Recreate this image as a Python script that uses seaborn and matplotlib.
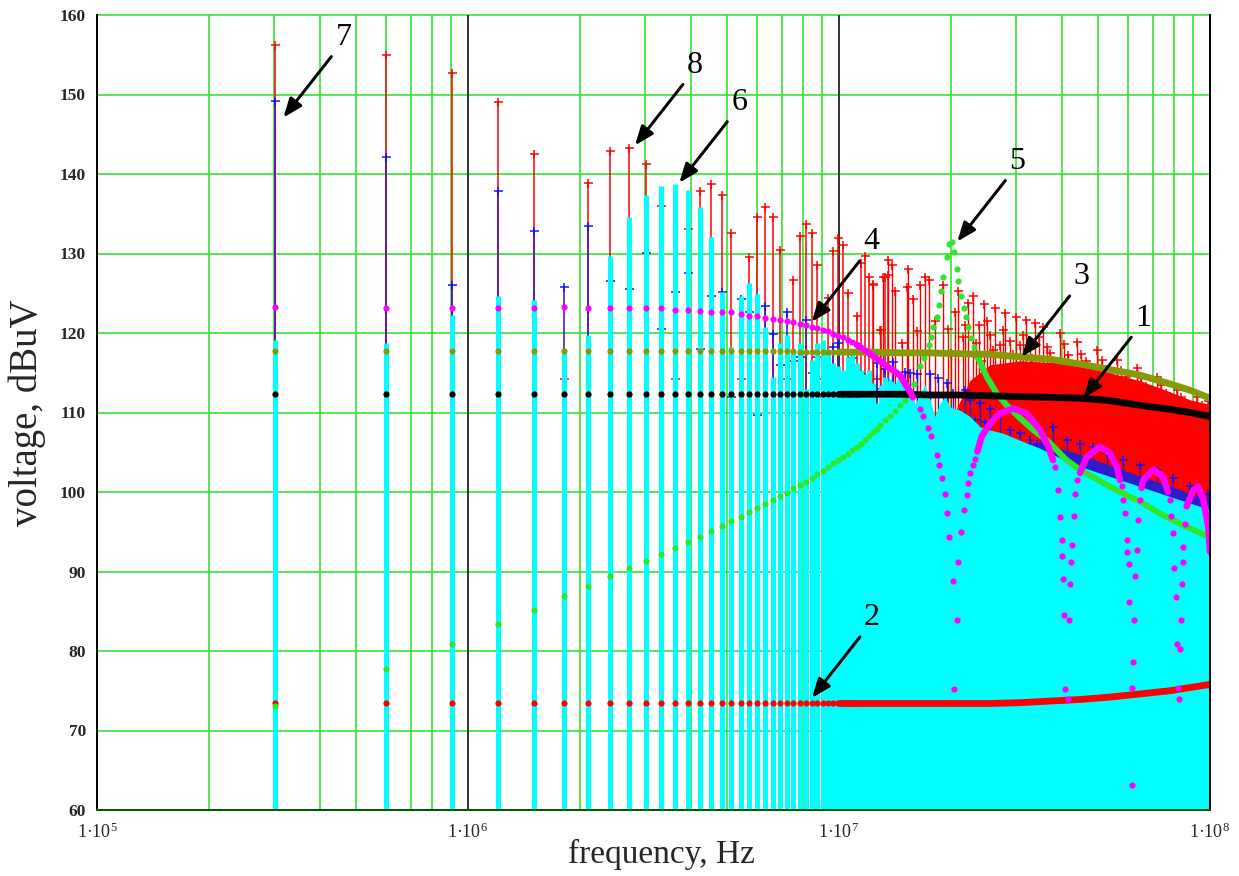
import matplotlib
matplotlib.use("Agg")
import matplotlib.pyplot as plt
from matplotlib.ticker import NullLocator
import seaborn as sns

MHZ = 1e6
F0_MHZ = 0.3015                      # fundamental of the pulse train
harmonic = list(range(1, 46))        # harmonics drawn as individual stems

# spectrum stems (dBuV) per harmonic
red_top = [156.2, 155.0, 152.7, 149.1, 142.5, 114.2, 138.9, 142.9, 143.3, 141.2,
           136.0, 114.2, 133.1, 137.9, 138.8, 137.4, 132.6, 114.2, 129.5, 134.6,
           135.8, 134.6, 130.4, 114.2, 126.7, 132.2, 133.7, 132.6, 128.6, 114.2,
           124.4, 130.3, 131.9, 131.1, 125.0, 114.2, 122.2, 128.8, 129.7, 127.0,
           126.1, 114.2, 120.4, 127.1, 127.3]
blue_top = [149.2, 142.2, 126.0, 137.8, 132.8, 125.8, 133.4, 126.5, 125.5, 130.1,
            120.5, 125.2, 127.6, 118.0, 124.7, 125.2, 112.0, 124.3, 122.6, 109.7,
            123.4, 119.9, 116.0, 122.7, 116.5, 117.0, 121.6, 115.0, 117.0, 112.0,
            115.0, 118.3, 118.7, 113.0, 115.0, 116.8, 112.0, 114.8, 112.0, 113.0,
            110.0, 116.2, 113.0, 115.5, 114.0]
cyan_top = [119.1, 118.7, 122.3, 124.6, 124.1, 117.9, 119.7, 129.7, 134.6, 137.3,
            138.5, 138.8, 138.0, 135.9, 132.1, 125.2, 118.2, 124.6, 126.3, 124.9,
            120.8, 114.5, 118.8, 119.7, 117.6, 118.7, 113.0, 116.6, 118.7, 119.1,
            117.9, 116.2, 115.8, 115.3, 117.0, 117.4, 116.2, 115.3, 114.9, 115.3,
            113.7, 111.2, 113.5, 114.5, 114.0]

# dotted curves at the first 37 harmonics
black_dots = [112.3, 112.3, 112.3, 112.3, 112.3, 112.3, 112.3, 112.3, 112.3, 112.3,
              112.3, 112.3, 112.3, 112.3, 112.3, 112.3, 112.3, 112.3, 112.3, 112.3,
              112.3, 112.3, 112.3, 112.3, 112.3, 112.3, 112.3, 112.3, 112.3, 112.3,
              112.3, 112.3, 112.3, 112.3, 112.3, 112.3, 112.3]
olive_dots = [117.7, 117.7, 117.7, 117.7, 117.7, 117.7, 117.7, 117.7, 117.7, 117.7,
              117.7, 117.7, 117.7, 117.7, 117.7, 117.7, 117.7, 117.7, 117.7, 117.7,
              117.7, 117.7, 117.7, 117.7, 117.7, 117.6, 117.6, 117.6, 117.6, 117.6,
              117.6, 117.6, 117.6, 117.6, 117.6, 117.6, 117.6]
reddot_dots = [73.4, 73.4, 73.4, 73.4, 73.4, 73.4, 73.4, 73.4, 73.4, 73.4,
               73.4, 73.4, 73.4, 73.4, 73.4, 73.4, 73.4, 73.4, 73.4, 73.4,
               73.4, 73.4, 73.4, 73.4, 73.4, 73.4, 73.4, 73.4, 73.4, 73.4,
               73.4, 73.4, 73.4, 73.4, 73.4, 73.4, 73.4]
magenta_dots = [123.3, 123.2, 123.2, 123.2, 123.2, 123.3, 123.2, 123.2, 123.2, 123.1,
                123.1, 122.9, 122.9, 122.8, 122.7, 122.7, 122.6, 122.4, 122.2, 122.1,
                121.9, 121.8, 121.6, 121.5, 121.4, 121.1, 121.0, 120.8, 120.6, 120.4,
                120.2, 119.9, 119.6, 119.5, 119.1, 118.9, 118.5]
green_dots = [73.1, 77.7, 80.9, 83.4, 85.2, 86.9, 88.2, 89.4, 90.4, 91.3,
              92.2, 93.0, 93.7, 94.4, 95.1, 95.7, 96.3, 96.9, 97.5, 98.0,
              98.5, 99.0, 99.5, 99.9, 100.5, 100.9, 101.3, 101.8, 102.3, 102.6,
              103.2, 103.6, 104.0, 104.4, 104.8, 105.3, 105.7, 106.1, 106.6, 107.0,
              107.5, 107.9]

# dense part of the band (MHz)
dense_f = [10.06, 12.12, 14.60, 17.60, 21.20, 25.53, 30.75, 37.05, 44.62, 53.74,
           64.75, 77.99, 88.33, 100.0]
black_dense = [112.3, 112.3, 112.3, 112.2, 112.2, 112.1, 112.0, 111.9, 111.8, 111.5,
               110.9, 110.4, 110.0, 109.5]
olive_dense = [117.6, 117.6, 117.5, 117.5, 117.4, 117.3, 117.0, 116.7, 116.1, 115.4,
               114.7, 113.6, 112.8, 111.8]
reddot_dense = [73.4, 73.4, 73.4, 73.4, 73.4, 73.4, 73.5, 73.7, 73.9, 74.2,
                74.6, 75.0, 75.4, 75.8]

# curve 5: resonance peak dots and the falling tail
green_peak_f = [12.90, 13.31, 13.73, 14.16, 14.60, 15.07, 15.54, 15.93, 16.54, 16.98,
                17.45, 17.70, 17.96, 18.34, 18.60, 18.79, 19.10, 19.52, 19.84, 20.21,
                20.46, 20.77, 20.97, 21.28, 21.72, 22.00, 22.32, 22.69, 23.17]
green_peak_v = [108.4, 109.0, 109.6, 110.2, 110.9, 111.6, 112.6, 113.6, 115.8, 116.8,
                118.5, 119.5, 120.8, 122.0, 123.5, 125.3, 127.1, 129.5, 131.2, 131.4,
                130.2, 128.1, 126.5, 124.6, 123.2, 122.0, 120.8, 119.4, 118.3]
green_tail_f = [23.51, 23.74, 25.01, 26.61, 28.31, 30.75, 33.40, 36.75, 41.09, 44.62,
                52.66, 58.38, 64.75, 73.31, 84.69, 98.95, 100.0]
green_tail_v = [117.0, 116.8, 114.5, 112.4, 110.9, 109.3, 107.8, 106.3, 104.0, 102.8,
                100.9, 99.8, 98.8, 97.3, 95.8, 94.4, 94.2]

# curve 4: lobes (dense) and the steep flanks towards the nulls
mag_lobe_f = [[11.18, 12.12, 13.47, 14.60, 15.54, 15.83],
              [23.60, 24.25, 25.53, 27.16, 29.50, 32.06, 34.83, 36.67, 37.75],
              [44.62, 46.52, 50.51, 53.74, 56.03, 57.19],
              [65.36, 66.09, 70.32, 74.82, 77.04],
              [86.50, 90.14, 92.98, 95.92, 98.95, 100.0]]
mag_lobe_v = [[118.5, 117.4, 115.8, 114.7, 112.6, 111.9],
              [105.1, 107.0, 108.6, 109.9, 110.5, 109.9, 107.8, 105.7, 104.0],
              [102.4, 104.4, 105.7, 104.9, 103.2, 101.5],
              [100.5, 101.5, 102.8, 101.9, 100.0],
              [98.2, 100.2, 100.7, 99.0, 95.6, 92.5]]
mag_flank_f = [16.54, 16.88, 17.41, 17.70, 18.34, 18.64, 18.92, 19.31, 19.52, 19.84,
               20.26, 20.46, 20.77, 20.97, 21.33, 21.77, 22.10, 22.32, 22.55, 22.94, 23.27,
               38.22, 39.01, 39.42, 39.84, 39.99, 40.24, 40.49, 40.74, 41.35, 41.61,
               41.95, 42.13, 42.55, 43.00, 43.27, 43.81,
               57.80, 58.38, 59.00, 59.63, 59.85, 60.37, 60.60, 61.50, 61.62, 62.00,
               62.39, 62.78, 63.44, 64.15, 64.75,
               77.99, 78.72, 79.61, 80.10, 80.80, 81.30, 81.81, 82.32, 82.98, 83.34,
               83.86, 84.38, 84.69, 85.59]
mag_flank_v = [110.5, 109.5, 108.0, 107.0, 104.7, 103.4, 101.7, 99.8, 97.3, 94.3,
               88.8, 75.2, 83.9, 91.2, 95.0, 97.7, 99.6, 101.1, 102.4, 103.4, 104.2,
               103.2, 100.2, 96.9, 94.0, 91.9, 89.0, 84.5, 75.2, 73.9, 83.9,
               88.4, 91.2, 93.3, 97.0, 99.8, 101.5,
               100.7, 99.0, 97.3, 94.0, 92.5, 90.9, 86.2, 63.1, 75.3, 78.6,
               83.9, 89.4, 92.7, 96.5, 99.0,
               99.0, 97.0, 94.8, 90.4, 86.8, 80.9, 75.3, 73.9, 80.3, 83.9,
               88.4, 91.2, 93.1, 96.0]

# stems above ~12 MHz
red_hf_f = [12.37, 12.90, 13.17, 13.58, 13.87, 14.16, 14.76, 15.22, 15.37, 15.86,
            16.20, 16.54, 17.05, 17.52, 18.15, 19.10, 19.68, 20.54, 20.97, 21.58,
            22.27, 23.01, 23.84, 24.65, 25.53, 26.33, 27.16, 28.02, 28.90, 29.94,
            30.75, 31.92, 32.72, 33.75, 35.53, 37.05, 39.42, 41.42, 43.72, 46.32,
            49.48, 52.43, 56.03, 59.37, 63.44, 67.21, 71.82, 76.08, 81.30, 86.13,
            92.06, 98.95,
            20.00, 21.90, 23.40, 24.20, 25.10, 26.00, 27.60, 29.40, 31.30, 33.20,
            34.60, 36.30, 38.20, 40.40, 42.60, 45.00, 47.90, 51.00, 54.50, 57.50,
            61.50, 65.30, 69.50, 73.90, 78.60, 83.70, 89.00, 95.00]
red_hf_v = [126.2, 120.4, 127.1, 129.2, 128.6, 125.3, 118.7, 125.8, 128.1, 124.3,
            120.2, 126.0, 127.0, 126.7, 121.5, 126.0, 120.5, 122.6, 125.3, 119.5,
            123.8, 124.6, 121.0, 123.7, 119.8, 123.1, 118.5, 122.5, 119.0, 122.0,
            118.5, 121.6, 118.2, 121.2, 120.8, 117.5, 120.0, 117.2, 118.9, 116.5,
            117.9, 115.5, 116.6, 114.5, 115.6, 113.3, 114.5, 112.5, 112.8, 111.2,
            112.0, 111.4,
            117.5, 121.0, 118.8, 116.5, 121.5, 117.8, 120.4, 117.3, 119.8, 116.9,
            119.5, 118.3, 116.2, 118.6, 116.0, 117.4, 115.3, 116.6, 114.6, 115.4,
            113.6, 114.4, 112.6, 113.5, 111.7, 112.0, 110.8, 111.0]
red_fill_f = [20.50, 22.50, 25.53, 30.75, 37.05, 44.62, 53.74, 64.75, 77.99, 88.33, 100.0]
red_fill_v = [110.0, 114.0, 116.0, 116.5, 116.3, 115.8, 115.0, 114.0, 112.6, 111.6, 111.0]

blue_hf_f = [14.01, 15.07, 15.54, 16.20, 16.74, 17.60, 17.78, 18.52, 19.52, 20.33,
             21.20, 21.86, 22.55, 23.27, 23.99, 24.75, 25.53, 27.16, 28.90, 30.75,
             32.72, 34.11, 34.83, 37.82, 41.09, 44.62, 48.45, 52.66, 58.38, 64.75,
             71.82, 79.61, 88.33, 98.95]
blue_hf_v = [116.4, 115.1, 115.0, 114.9, 111.5, 114.9, 109.1, 114.3, 113.7, 112.5,
             110.0, 112.8, 111.6, 109.0, 111.2, 108.8, 110.5, 109.9, 107.8, 107.4,
             106.5, 106.1, 107.8, 108.2, 106.5, 106.1, 105.7, 104.9, 104.0, 103.4,
             102.8, 101.7, 100.7, 99.8]
blue_fill_f = [27.16, 34.83, 42.82, 53.41, 64.75, 79.46, 100.0]
blue_fill_v = [106.0, 106.2, 105.0, 103.4, 102.0, 100.6, 99.0]

cyan_fill_f = [13.56, 14.16, 14.60, 15.07, 15.54, 16.03, 16.54, 17.05, 17.60, 18.15,
               18.72, 19.31, 19.92, 21.20, 22.55, 23.99, 25.53, 27.67, 30.75, 34.83,
               42.82, 53.41, 64.75, 79.46, 100.0]
cyan_fill_v = [114.5, 113.6, 114.9, 112.5, 113.2, 111.0, 112.4, 113.5, 111.6, 109.5,
               111.2, 112.0, 110.7, 110.3, 109.5, 108.2, 107.8, 107.4, 106.5, 105.5,
               103.5, 102.0, 100.7, 99.3, 97.8]

# curve labels: arrow tip (MHz, dBuV)
ann_label = ["7", "8", "6", "4", "5", "3", "1", "2"]
ann_f = [0.318, 2.819, 3.711, 8.440, 20.84, 31.08, 45.55, 8.456]
ann_v = [147.1, 143.6, 138.9, 121.4, 131.5, 117.0, 111.8, 74.1]

# ---------------------------------------------------------------- styling
RED = "#ff0000"
BLUE_STEM = "#4a16c0"
BLUE_BAND = "#2c1ccc"
BLUE_MARK = "#1010ff"
CYAN = "#00ffff"
MAGENTA = "#ff00ff"
OLIVE = "#869a06"
LIME = "#2ee62e"
GRID = "#30e030"
PX = 72 / 100            # points per pixel at 100 dpi

sns.set_theme(style="white")
plt.rcParams["font.family"] = ["Liberation Serif", "DejaVu Serif"]
plt.rcParams["mathtext.fontset"] = "custom"
plt.rcParams["mathtext.rm"] = "Liberation Serif"
plt.rcParams["mathtext.it"] = "Liberation Serif:italic"
plt.rcParams["mathtext.bf"] = "Liberation Serif:bold"

fig = plt.figure(figsize=(12.39, 8.76), dpi=100)
ax = fig.add_axes([97 / 1239, 66 / 876, 1113 / 1239, 795 / 876])
ax.set_xscale("log")
ax.set_xlim(1e5, 1e8)
ax.set_ylim(60, 160)

# grid: green log grid, dark decade lines
for dec in (1e5, 1e6, 1e7):
    for m in range(2, 10):
        ax.axvline(m * dec, color=GRID, lw=1.6 * PX, zorder=0.5)
for d in (1e6, 1e7):
    ax.axvline(d, color="#383838", lw=2.0 * PX, zorder=0.6)
for yv in range(70, 161, 10):
    ax.axhline(yv, color=GRID, lw=1.6 * PX, zorder=0.5, clip_on=False)

f_h = [n * F0_MHZ * MHZ for n in harmonic]

def hz(values):
    return [v * MHZ for v in values]

# curve 8 (red stems)
ax.fill_between(hz(red_fill_f), 60, red_fill_v, color=RED, lw=0, zorder=1.9)
ax.vlines(f_h, 60, red_top, color=RED, lw=1.5 * PX, zorder=2, capstyle="butt")
ax.vlines(hz(red_hf_f), 60, red_hf_v, color=RED, lw=1.4 * PX, zorder=2, capstyle="butt")
ax.plot(f_h + hz(red_hf_f), red_top + red_hf_v, ls="none", marker="+",
        ms=9 * PX, mew=1.5 * PX, color=RED, zorder=2.1)

# curve 7 (blue stems)
ax.fill_between(hz(blue_fill_f), 60, blue_fill_v, color=BLUE_BAND, lw=0, zorder=2.9)
ax.vlines(f_h, 60, blue_top, color=BLUE_STEM, lw=1.6 * PX, zorder=3, capstyle="butt")
ax.vlines(hz(blue_hf_f), 60, blue_hf_v, color=BLUE_BAND, lw=1.4 * PX, zorder=3, capstyle="butt")
ax.plot(f_h + hz(blue_hf_f), blue_top + blue_hf_v, ls="none", marker="+",
        ms=9 * PX, mew=1.5 * PX, color=BLUE_MARK, zorder=3.1)

# curve 6 (cyan stems)
ax.fill_between(hz(cyan_fill_f), 60, cyan_fill_v, color=CYAN, lw=0, zorder=4)
ax.vlines(f_h, 60, cyan_top, color=CYAN, lw=5.0 * PX, zorder=4, capstyle="butt")

DOT = (6.2 * PX) ** 2
BAND = 6.8 * PX
f_dots = f_h[:len(black_dots)]

def dotted_curve(x, y, color, z):
    sns.scatterplot(x=x, y=y, color=color, s=DOT, linewidth=0, ax=ax,
                    zorder=z, legend=False)

def band(x, y, color, z, width=BAND):
    sns.lineplot(x=x, y=y, color=color, linewidth=width, ax=ax, zorder=z,
                 estimator=None, sort=False, legend=False)

# curve 2
dotted_curve(f_dots, reddot_dots, RED, 5)
band(hz(dense_f), reddot_dense, RED, 5)
# curve 5
dotted_curve(f_h[:len(green_dots)], green_dots, LIME, 6)
dotted_curve(hz(green_peak_f), green_peak_v, LIME, 6)
band(hz(green_tail_f), green_tail_v, LIME, 6, width=6.0 * PX)
# curve 3
dotted_curve(f_dots, olive_dots, OLIVE, 7)
band(hz(dense_f), olive_dense, OLIVE, 7)
# curve 1
dotted_curve(f_dots, black_dots, "black", 8)
band(hz(dense_f), black_dense, "black", 8)
# curve 4
dotted_curve(f_dots, magenta_dots, MAGENTA, 9)
for lf, lv in zip(mag_lobe_f, mag_lobe_v):
    band(hz(lf), lv, MAGENTA, 9, width=6.5 * PX)
dotted_curve(hz(mag_flank_f), mag_flank_v, MAGENTA, 9)

# axes frame and ticks
for side in ("left", "right"):
    ax.spines[side].set_color("black")
    ax.spines[side].set_linewidth(2 * PX)
ax.spines["bottom"].set_color("#005a00")
ax.spines["bottom"].set_linewidth(2 * PX)
ax.spines["top"].set_visible(False)
for sp in ax.spines.values():
    sp.set_zorder(12)

yt = list(range(60, 161, 10))
ax.set_yticks(yt)
ax.set_yticklabels([str(v) for v in yt], fontsize=12.5, fontweight="bold")
xt = [1e5, 1e6, 1e7, 1e8]
ax.set_xticks(xt)
ax.set_xticklabels(["1·10$^{\\mathregular{%d}}$" % e for e in (5, 6, 7, 8)], fontsize=13)
ax.xaxis.set_minor_locator(NullLocator())
ax.tick_params(axis="both", length=0)
ax.tick_params(axis="y", pad=8)
ax.tick_params(axis="x", pad=9)

ax.set_xlabel("frequency, Hz", fontsize=24)
ax.xaxis.set_label_coords(0.507, -0.036)
ax.xaxis.label.set_va("top")
ax.set_ylabel("voltage, dBuV", fontsize=28)
ax.yaxis.set_label_coords(-0.046, 0.5)

# curve labels with arrows
for lbl, fx, vy in zip(ann_label, ann_f, ann_v):
    ax.annotate("", xy=(fx * MHZ, vy), xytext=(48, 61), textcoords="offset pixels",
                arrowprops=dict(arrowstyle="-|>,head_length=1.15,head_width=0.45",
                                mutation_scale=10, color="black", lw=3 * PX,
                                shrinkA=0, shrinkB=0), zorder=11)
    ax.annotate(lbl, xy=(fx * MHZ, vy), xytext=(60, 80), textcoords="offset pixels",
                ha="center", va="center", fontsize=23, color="black", zorder=11)

fig.savefig("out.png", dpi=100)
